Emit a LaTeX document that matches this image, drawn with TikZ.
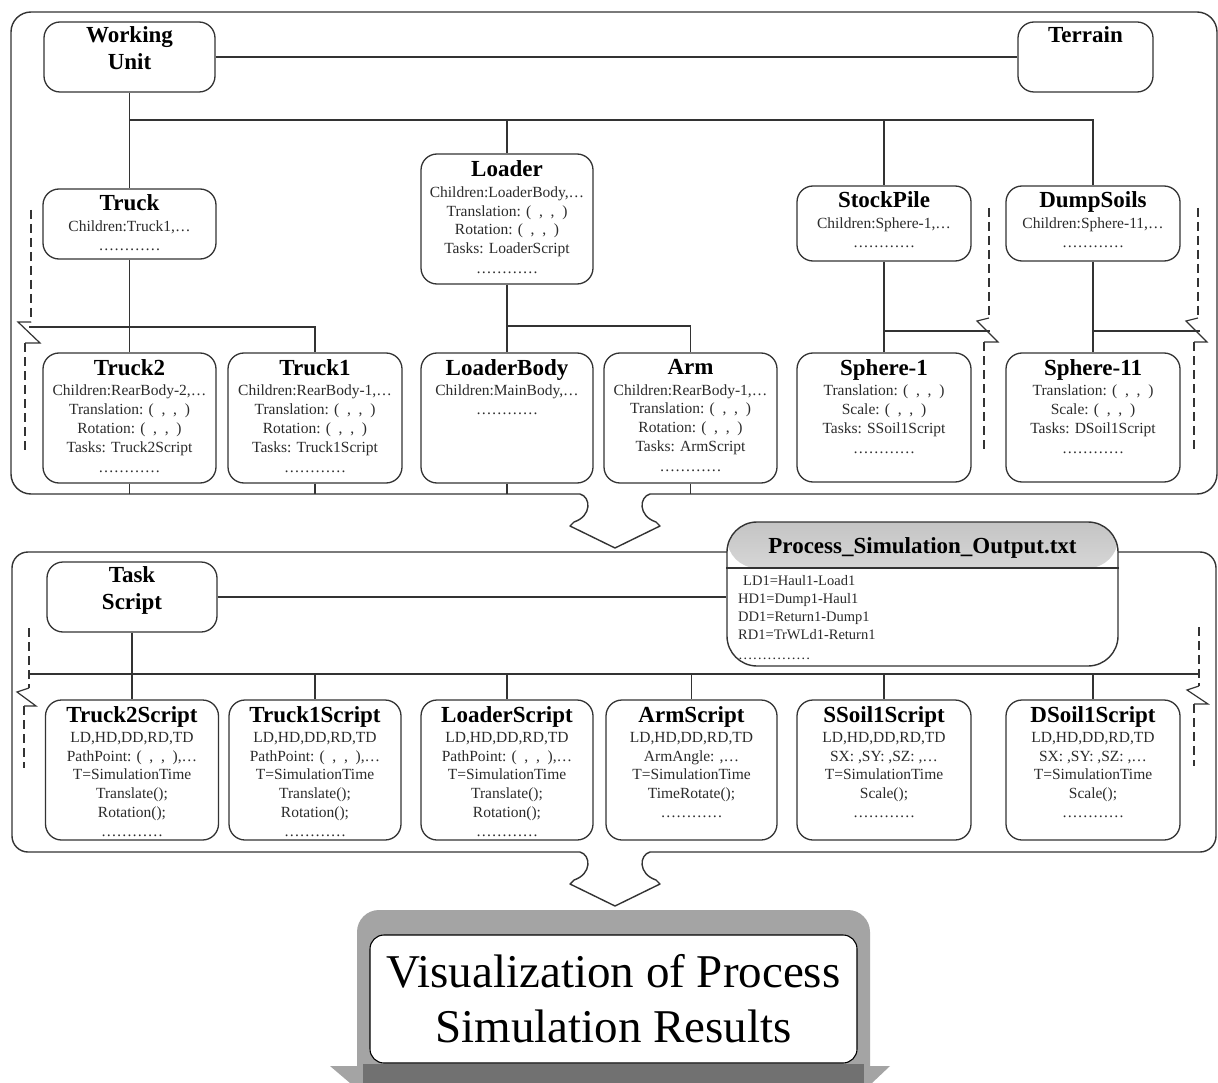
\documentclass[tikz,border=0pt]{standalone}
\usepackage{fontspec}
\setmainfont{Liberation Serif}
\definecolor{ln}{HTML}{333333}
\definecolor{tx}{HTML}{2B2B2B}
\definecolor{frmlight}{HTML}{A4A4A4}
\definecolor{frmdark}{HTML}{717171}
\definecolor{hdtop}{HTML}{C4C4C4}
\newcommand{\BT}[1]{{\color{black}\bfseries\fontsize{23}{24}\selectfont #1}}
\newcommand{\dts}{…………}
\newcommand{\cm}{(\enspace,\enspace,\enspace)}
\begin{document}
\begin{tikzpicture}[x=1pt,y=-1pt,
  box/.style={draw=ln, line width=1.3pt, rounded corners=16pt, fill=white, inner sep=0pt},
  txt/.style={align=center, inner sep=0pt, text=tx, font=\fontsize{15.5}{18.8}\selectfont, anchor=north},
  btxt/.style={align=center, inner sep=0pt, text=black, font=\bfseries\fontsize{23}{27}\selectfont, anchor=north},
  conn/.style={draw=ln, line width=1.3pt},
  frame/.style={draw=ln, line width=1.4pt},
  brk/.style={draw=ln, line width=1.2pt},
  dsh/.style={draw=ln, line width=1.2pt, dash pattern=on 9pt off 5pt},
]
\useasboundingbox (0,0) rectangle (1218,1083);
\fill[white] (0,0) rectangle (1218,1083);
\clip (0,0) rectangle (1218,1083);

% containers
\draw[frame, rounded corners=20pt] (580,494) -- (11,494) -- (11,12) -- (1217,12) -- (1217,494) -- (650,494);
\draw[frame, rounded corners=16pt] (580,852) -- (12,852) -- (12,552) -- (1216,552) -- (1216,852) -- (650,852);
\foreach \yy in {494,852}
  \draw[frame, line join=round] (580,\yy) .. controls (591,\yy+3) and (592,\yy+22) .. (574,\yy+28) -- (570,\yy+32) -- (615,\yy+54) -- (660,\yy+32) -- (656,\yy+28) .. controls (638,\yy+22) and (639,\yy+3) .. (650,\yy);

% ---------- upper level ----------
\node[box, minimum width=171pt, minimum height=70pt] (wu) at (129.5,57) {};
\node[btxt] (wu-t) at ([yshift=-5pt]wu.north) {Working\\Unit};
\node[box, minimum width=135pt, minimum height=70pt] (ter) at (1085.5,57) {};
\node[btxt] (ter-t) at ([yshift=-5pt]ter.north) {Terrain};

\node[box, minimum width=173pt, minimum height=70pt] (truck) at (129.5,224) {};
\node[txt] (truck-t) at ([yshift=-6pt]truck.north) {\BT{Truck}\\[2pt]Children:Truck1,…\\\dts};
\node[box, minimum width=172pt, minimum height=130pt] (loader) at (507,219) {};
\node[txt] (loader-t) at ([yshift=-7pt]loader.north) {\BT{Loader}\\[2pt]Children:LoaderBody,…\\Translation: \cm\\Rotation: \cm\\Tasks: LoaderScript\\[1pt]\dts};
\node[box, minimum width=174pt, minimum height=75pt] (stock) at (884,223.5) {};
\node[txt] (stock-t) at ([yshift=-6pt]stock.north) {\BT{StockPile}\\[2pt]Children:Sphere-1,…\\\dts};
\node[box, minimum width=174pt, minimum height=75pt] (dump) at (1093,223.5) {};
\node[txt] (dump-t) at ([yshift=-6pt]dump.north) {\BT{DumpSoils}\\[2pt]Children:Sphere-11,…\\\dts};

\node[box, minimum width=173pt, minimum height=130pt] (truck2) at (129.5,418) {};
\node[txt] (truck2-t) at ([yshift=-6.5pt]truck2.north) {\BT{Truck2}\\[2pt]Children:RearBody-2,…\\Translation: \cm\\Rotation: \cm\\Tasks: Truck2Script\\[1pt]\dts};
\node[box, minimum width=174pt, minimum height=130pt] (truck1) at (315,418) {};
\node[txt] (truck1-t) at ([yshift=-6.5pt]truck1.north) {\BT{Truck1}\\[2pt]Children:RearBody-1,…\\Translation: \cm\\Rotation: \cm\\Tasks: Truck1Script\\[1pt]\dts};
\node[box, minimum width=172pt, minimum height=130pt] (lbody) at (507,418) {};
\node[txt] (lbody-t) at ([yshift=-6.5pt]lbody.north) {\BT{LoaderBody}\\[2pt]Children:MainBody,…\\\dts};
\node[box, minimum width=173pt, minimum height=130pt] (arm) at (690.5,418) {};
\node[txt] (arm-t) at ([yshift=-6.5pt]arm.north) {\BT{Arm}\\[2pt]Children:RearBody-1,…\\Translation: \cm\\Rotation: \cm\\Tasks: ArmScript\\[1pt]\dts};
\node[box, minimum width=174pt, minimum height=129pt] (sph1) at (884,417.5) {};
\node[txt] (sph1-t) at ([yshift=-6.5pt]sph1.north) {\BT{Sphere-1}\\[2pt]Translation: \cm\\Scale: \cm\\Tasks: SSoil1Script\\[1pt]\dts};
\node[box, minimum width=174pt, minimum height=129pt] (sph11) at (1093,417.5) {};
\node[txt] (sph11-t) at ([yshift=-6.5pt]sph11.north) {\BT{Sphere-11}\\[2pt]Translation: \cm\\Scale: \cm\\Tasks: DSoil1Script\\[1pt]\dts};

% upper connectors
\coordinate (busA) at (129.5,120);
\coordinate (botA) at (0,494);
\draw[conn] (wu.east) -- (ter.west);
\draw[conn] (wu.south) -- (busA) -| (dump.north);
\draw[conn] (busA) -- (truck.north);
\draw[conn] (busA -| loader.north) -- (loader.north);
\draw[conn] (busA -| stock.north) -- (stock.north);
\draw[conn] (truck.south) -- (truck2.north);
\coordinate (busT) at (29,327);
\draw[conn] (busT) -| (truck1.north);
\coordinate (busL) at (507,326);
\draw[conn] (loader.south) -- (lbody.north);
\draw[conn] (busL) -| (arm.north);
\draw[conn] (stock.south) -- (sph1.north);
\coordinate (busS) at (990,331);
\draw[conn] (stock.south |- busS) -- (busS);
\draw[conn] (dump.south) -- (sph11.north);
\coordinate (busD) at (1200,331);
\draw[conn] (dump.south |- busD) -- (busD);
\foreach \nm in {truck2,truck1,lbody,arm}
  \draw[conn] (\nm.south) -- (\nm.south |- botA);

% upper breaks
\draw[dsh] (31,210) -- (31,322);
\draw[brk] (31,322) -- (18,322) -- (40,343) -- (25,343);
\draw[dsh] (25,343) -- (25,453);
\draw[dsh] (989,208) -- (989,318);
\draw[brk] (989,318) -- (977,321) -- (998,342) -- (984,342);
\draw[dsh] (984,342) -- (984,453);
\draw[dsh] (1198,208) -- (1198,318);
\draw[brk] (1198,318) -- (1186,321) -- (1207,342) -- (1194,342);
\draw[dsh] (1194,342) -- (1194,453);

% ---------- lower level ----------
\node[box, minimum width=170pt, minimum height=70pt] (ts) at (132,597) {};
\node[btxt] (ts-t) at ([yshift=-5pt]ts.north) {Task\\Script};

\node[draw=ln, line width=1.4pt, rounded corners=30pt, fill=white, minimum width=391pt, minimum height=144pt, inner sep=0pt,
  path picture={\shade[top color=hdtop, bottom color=white, middle color=white!88!black] (path picture bounding box.north west) rectangle ([yshift=-46pt]path picture bounding box.north east);}] (proc) at (922.5,594) {};
\coordinate (pdiv) at (0,568);
\draw[conn] (proc.west |- pdiv) -- (proc.east |- pdiv);
\node[anchor=base, inner sep=0pt, font=\bfseries\fontsize{23}{24}\selectfont] (proc-t) at (922.5,553) {Process\_Simulation\_Output.txt};
\node[anchor=north west, align=left, inner sep=0pt, text=tx, font=\fontsize{14.5}{18}\selectfont] (proc-b) at (738,575) {\hspace*{5pt}LD1=Haul1-Load1\\HD1=Dump1-Haul1\\DD1=Return1-Dump1\\RD1=TrWLd1-Return1\\[2pt]……………};

\node[box, minimum width=173pt, minimum height=140pt] (t2s) at (132,770) {};
\node[txt] (t2s-t) at ([yshift=-7pt]t2s.north) {\BT{Truck2Script}\\[1pt]LD,HD,DD,RD,TD\\PathPoint: \cm,…\\T=SimulationTime\\Translate();\\Rotation();\\\dts};
\node[box, minimum width=172pt, minimum height=140pt] (t1s) at (315,770) {};
\node[txt] (t1s-t) at ([yshift=-7pt]t1s.north) {\BT{Truck1Script}\\[1pt]LD,HD,DD,RD,TD\\PathPoint: \cm,…\\T=SimulationTime\\Translate();\\Rotation();\\\dts};
\node[box, minimum width=172pt, minimum height=140pt] (ls) at (507,770) {};
\node[txt] (ls-t) at ([yshift=-7pt]ls.north) {\BT{LoaderScript}\\[1pt]LD,HD,DD,RD,TD\\PathPoint: \cm,…\\T=SimulationTime\\Translate();\\Rotation();\\\dts};
\node[box, minimum width=171pt, minimum height=140pt] (as) at (691.5,770) {};
\node[txt] (as-t) at ([yshift=-7pt]as.north) {\BT{ArmScript}\\[1pt]LD,HD,DD,RD,TD\\ArmAngle: ,…\\T=SimulationTime\\TimeRotate();\\\dts};
\node[box, minimum width=174pt, minimum height=140pt] (ss) at (884,770) {};
\node[txt] (ss-t) at ([yshift=-7pt]ss.north) {\BT{SSoil1Script}\\[1pt]LD,HD,DD,RD,TD\\SX: ,SY: ,SZ: ,…\\T=SimulationTime\\Scale();\\\dts};
\node[box, minimum width=174pt, minimum height=140pt] (ds) at (1093,770) {};
\node[txt] (ds-t) at ([yshift=-7pt]ds.north) {\BT{DSoil1Script}\\[1pt]LD,HD,DD,RD,TD\\SX: ,SY: ,SZ: ,…\\T=SimulationTime\\Scale();\\\dts};

% lower connectors
\draw[conn] (ts.east) -- (ts.east -| proc.west);
\coordinate (busB) at (29,674);
\coordinate (busB2) at (1199,674);
\draw[conn] (ts.south) -- (t2s.north);
\draw[conn] (busB) -- (busB2);
\foreach \nm in {t1s,ls,as,ss,ds}
  \draw[conn] (busB -| \nm.north) -- (\nm.north);

% lower breaks
\draw[dsh] (29,628) -- (29,688);
\draw[brk] (29,688) -- (17,692) -- (36,706) -- (24,706);
\draw[dsh] (24,706) -- (24,768);
\draw[dsh] (1199,627) -- (1199,686);
\draw[brk] (1199,686) -- (1187,690) -- (1208,704) -- (1194,704);
\draw[dsh] (1194,704) -- (1194,766);

% ---------- result box ----------
\fill[frmlight] (330,1066) -- (890,1066) -- (872,1083) -- (350,1083) -- cycle;
\fill[frmlight, rounded corners=22pt] (357,910) rectangle (870,1110);
\fill[frmdark] (363,1064) rectangle (864,1083);
\node[draw=black, line width=1.1pt, fill=white, rounded corners=14pt, minimum width=487pt, minimum height=128pt, inner sep=0pt, align=center, font=\fontsize{47}{55}\selectfont] (vis) at (613.5,999) {Visualization of Process\\Simulation Results};
\end{tikzpicture}
\end{document}
